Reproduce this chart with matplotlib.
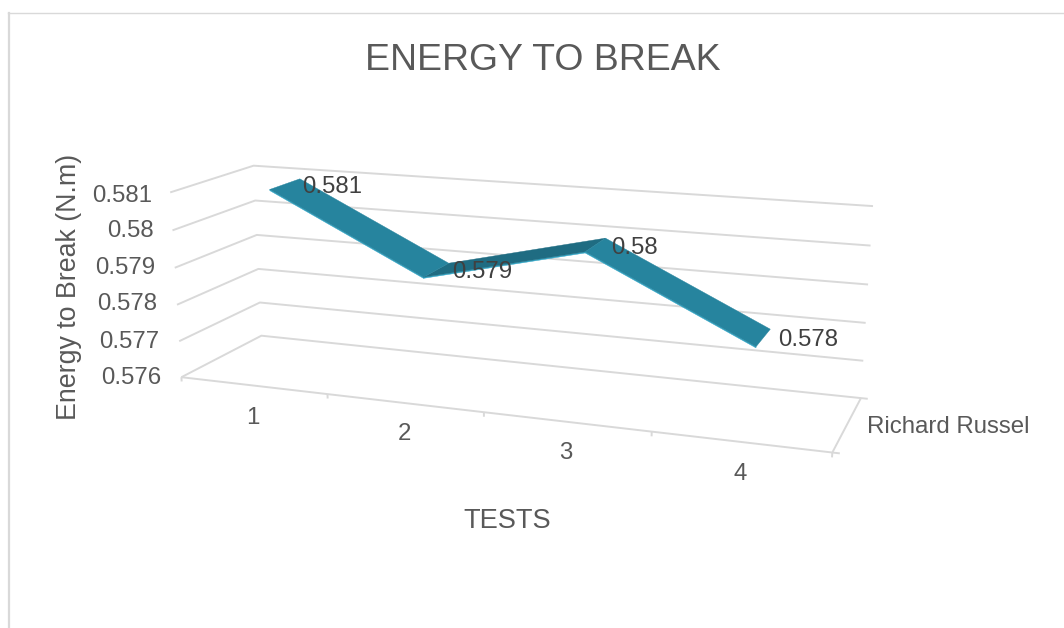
import numpy as np
import matplotlib
matplotlib.use("Agg")
import matplotlib.pyplot as plt
from matplotlib.lines import Line2D
from mpl_toolkits.mplot3d.art3d import Poly3DCollection

plt.rcParams['font.family'] = ['Liberation Sans', 'DejaVu Sans']

# ---- data ----
tests = [1, 2, 3, 4]
energy = [0.581, 0.579, 0.580, 0.578]
value_ticks = [0.576, 0.577, 0.578, 0.579, 0.580, 0.581]
series_name = "Richard Russel"
title = "ENERGY TO BREAK"
x_label = "TESTS"
y_label = "Energy to Break (N.m)"

# ---- style ----
W, H = 1064, 628
GRID = "#D9D9D9"
TEXT = "#595959"
LABEL = "#404040"
TOP = "#26849E"
DARK = "#1F6C82"
EDGE = "#2FA3C3"
X0, X1 = 0.5, 4.5
V0, V1 = 0.576, 0.581
RIBBON = (0.30, 0.685)
THICK = 0.00003

# Camera calibration of the frame: (x 0-1, depth 0-1, height 0-1) -> figure pixel
calib = []
for i, (f, b, r) in enumerate(zip(
        [(181.7, 376.7), (179, 341.3), (176.7, 304.7), (174.7, 267.7), (172.7, 230.3), (170, 192.7)],
        [(261, 335.7), (260, 302.3), (258.3, 268.7), (257, 235), (255.7, 200.7), (253.3, 165.7)],
        [(860.7, 398.3), (863.3, 361), (865.7, 323), (868.3, 284.3), (870.7, 245.7), (872.7, 205.7)])):
    h = i / 5
    calib += [((0, 0, h), f), ((0, 1, h), b), ((1, 1, h), r)]
calib += [((1, 0, 0), (832.3, 452.3)), ((.25, 0, 0), (327.7, 395)),
          ((.5, 0, 0), (484, 411.7)), ((.75, 0, 0), (651.7, 431.7))]


def fit_camera(points):
    rows, rhs = [], []
    for (x, y, z), (u, v) in points:
        rows.append([x, y, z, 1, 0, 0, 0, 0, -u * x, -u * y, -u * z]); rhs.append(u)
        rows.append([0, 0, 0, 0, x, y, z, 1, -v * x, -v * y, -v * z]); rhs.append(v)
    p = np.linalg.lstsq(np.array(rows), np.array(rhs), rcond=None)[0]
    return np.array([p[:4], p[4:8], [0, 1, 0, 0], [p[8], p[9], p[10], 1]])


CAMERA = fit_camera(calib)
TO_UNIT = np.array([[1 / (X1 - X0), 0, 0, -X0 / (X1 - X0)],
                    [0, 1, 0, 0],
                    [0, 0, 1 / (V1 - V0), -V0 / (V1 - V0)],
                    [0, 0, 0, 1]])

fig = plt.figure(figsize=(W / 100, H / 100), dpi=100, facecolor="white")
ax = fig.add_axes([0, 0, 1, 1], projection="3d", computed_zorder=False)
ax.set_axis_off()
ax.patch.set_visible(False)
ax.set_proj_type("ortho")  # no near-plane clipping; the camera below is our own
ax.set_xlim(X0, X1)
ax.set_ylim(0, 1)
ax.set_zlim(V0, V1)


def get_proj():
    inv = ax.transData.inverted().get_matrix()
    flip = np.array([[1, 0, 0], [0, -1, H], [0, 0, 1]], float)
    a = inv @ flip
    post = np.array([[a[0, 0], a[0, 1], 0, a[0, 2]],
                     [a[1, 0], a[1, 1], 0, a[1, 2]],
                     [0, 0, 1, 0],
                     [0, 0, 0, 1]])
    return post @ CAMERA @ TO_UNIT


ax.get_proj = get_proj


def line(xs, ds, vs, lw=1.4, z=1):
    ax.plot(xs, ds, vs, color=GRID, lw=lw, clip_on=False, zorder=z, solid_capstyle="butt")


# gridlines: side wall + back wall
for v in value_ticks:
    line([X0, X0, X1], [0, 1, 1], [v, v, v])
# floor front and side edges
line([X0, X1, X1], [0, 0, 1], [V0, V0, V0])
# category tick marks
for xt in np.arange(X0, X1 + 0.5, 1.0):
    line([xt, xt], [0, 0], [V0, V0 - 0.00012])
# series axis tick marks
for d in (0, 1):
    line([X1, X1 + 0.04], [d, d], [V0, V0])

# ribbon
d0, d1 = RIBBON
for i in range(len(tests) - 1):
    x_a, x_b = tests[i], tests[i + 1]
    v_a, v_b = energy[i], energy[i + 1]
    rising = v_b > v_a
    face = [(x_a, d0, v_a), (x_b, d0, v_b), (x_b, d1, v_b), (x_a, d1, v_a)]
    edge = [(x_a, d0, v_a), (x_b, d0, v_b), (x_b, d0, v_b - THICK), (x_a, d0, v_a - THICK)]
    for verts, col, zo in ((edge, EDGE, 3), (face, DARK if rising else TOP, 5 if not rising else 4)):
        pc = Poly3DCollection([verts], facecolors=col, edgecolors=col, linewidths=0.3, zorder=zo)
        pc.set_clip_on(False)
        ax.add_collection3d(pc)
ax.set_xlim(X0, X1)
ax.set_ylim(0, 1)
ax.set_zlim(V0, V1)


def px_text(x, y, s, **kw):
    kw.setdefault("color", TEXT)
    kw.setdefault("fontsize", 17.3)
    kw.setdefault("va", "center")
    return fig.text(x / W, 1 - (y + 2) / H, s, **kw)


px_text(543, 58, title, fontsize=26.9, ha="center")
px_text(507, 519, x_label, fontsize=19.6, ha="center")
px_text(69, 285, y_label, fontsize=19.3, ha="center", rotation=90)
px_text(867, 425, series_name, ha="left")

value_right = [161, 159, 157, 155, 154, 152]
value_y = [376, 340, 302, 266, 229, 194]
for v, xr, yy in zip(value_ticks, value_right, value_y):
    px_text(xr, yy, f"{v:g}", ha="right")

for t, xx, yy in zip(tests, [253, 404, 566, 740], [416, 432, 451, 472]):
    px_text(xx, yy, str(t), ha="center")

for v, xx, yy in zip(energy, [302, 452, 611, 778], [185, 270, 246, 338]):
    px_text(xx, yy, f"{v:g}", ha="left", color=LABEL)

# chart-area border
fig.add_artist(Line2D([9 / W, 9 / W], [0, 1 - 12.5 / H], color=GRID, lw=1.6))
fig.add_artist(Line2D([8 / W, 1], [1 - 12.5 / H, 1 - 12.5 / H], color=GRID, lw=1.0))

fig.savefig("out.png", dpi=100, facecolor="white")
